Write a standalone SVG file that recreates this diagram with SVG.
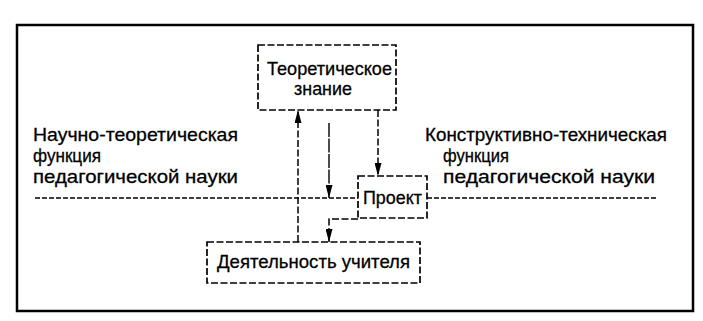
<svg xmlns="http://www.w3.org/2000/svg" width="703" height="321" viewBox="0 0 703 321">
  <style>
    .box { fill: #fff; stroke: #000; stroke-width: 1.7; stroke-dasharray: 7 2.5; }
    .lbl { font-family: "Liberation Sans", Arial, sans-serif; font-size: 19px; fill: #000; stroke: #000; stroke-width: 0.3; }
    .dash { fill: none; stroke: #000; stroke-width: 1.5; stroke-dasharray: 7 2.5; }
    .solid { fill: none; stroke: #000; stroke-width: 1.4; stroke-dasharray: 14 1.5; }
    .fine { fill: none; stroke: #000; stroke-width: 1.4; stroke-dasharray: 5 2; }
  </style>
  <defs>
    <marker id="ah" viewBox="0 0 13 7" refX="13" refY="3.5" markerWidth="13" markerHeight="7" orient="auto" markerUnits="userSpaceOnUse">
      <path d="M0,0 L13,3.5 L0,7 z" fill="#000"/>
    </marker>
  </defs>
  <rect x="0" y="0" width="703" height="321" fill="#fff"/>
  <g id="frame">
    <rect x="17" y="25" width="676" height="286" fill="none" stroke="#000" stroke-width="2.5"/>
  </g>
  <g id="connectors">
    <path class="fine" d="M35,198 H358"/>
    <path class="fine" d="M427,198 H657"/>
    <path class="dash" d="M298,242 V110" marker-end="url(#ah)"/>
    <path class="solid" d="M329,123 V198" marker-end="url(#ah)"/>
    <path class="dash" d="M378,110 V176" marker-end="url(#ah)"/>
    <path class="dash" d="M358,219 H329 V242" marker-end="url(#ah)"/>
  </g>
  <g id="theory">
    <rect class="box" x="258" y="45" width="138" height="65"/>
    <text class="lbl" x="267" y="75" textLength="125" lengthAdjust="spacingAndGlyphs">Теоретическое</text>
    <text class="lbl" x="294" y="95" textLength="58" lengthAdjust="spacingAndGlyphs">знание</text>
  </g>
  <g id="project">
    <rect class="box" x="358" y="176" width="69" height="42"/>
    <text class="lbl" x="363" y="204" textLength="59" lengthAdjust="spacingAndGlyphs">Проект</text>
  </g>
  <g id="teacher">
    <rect class="box" x="207" y="242" width="213" height="41"/>
    <text class="lbl" x="217" y="268" textLength="193" lengthAdjust="spacingAndGlyphs">Деятельность учителя</text>
  </g>
  <g id="left-label">
    <text class="lbl" x="33" y="141" textLength="205" lengthAdjust="spacingAndGlyphs">Научно-теоретическая</text>
    <text class="lbl" x="33" y="162" textLength="68" lengthAdjust="spacingAndGlyphs">функция</text>
    <text class="lbl" x="33" y="183" textLength="205" lengthAdjust="spacingAndGlyphs">педагогической науки</text>
  </g>
  <g id="right-label">
    <text class="lbl" x="425" y="141" textLength="242" lengthAdjust="spacingAndGlyphs">Конструктивно-техническая</text>
    <text class="lbl" x="443" y="162" textLength="66" lengthAdjust="spacingAndGlyphs">функция</text>
    <text class="lbl" x="443" y="183" textLength="212" lengthAdjust="spacingAndGlyphs">педагогической науки</text>
  </g>
</svg>
